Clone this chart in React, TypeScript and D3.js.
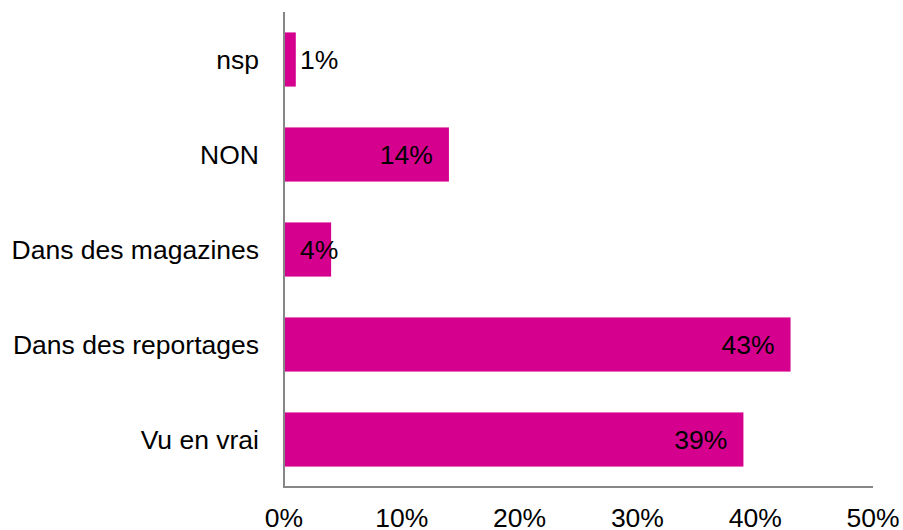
import React, { useEffect, useRef } from "react"
import * as d3 from "d3"

const categories = ["nsp", "NON", "Dans des magazines", "Dans des reportages", "Vu en vrai"]
const values = [1, 14, 4, 43, 39]
const xTicks = [0, 10, 20, 30, 40, 50]

const W = 903
const H = 530

const App = () => {
    const ref = useRef<SVGSVGElement | null>(null)

    useEffect(() => {
        if (!ref.current) return
        const svg = d3.select(ref.current)
        svg.selectAll("*").remove()

        const left = 284
        const right = 873
        const top = 12
        const bottom = 487
        const font = "Liberation Sans, Arial, sans-serif"
        const fontSize = 26.5

        const x = d3.scaleLinear().domain([0, 50]).range([left, right])
        const y = d3
            .scaleBand<string>()
            .domain(categories)
            .range([top, bottom])
            .paddingInner(0.43)
            .paddingOuter(0.215)

        const data = categories.map((c, i) => ({ cat: c, v: values[i] }))

        // bars
        svg.append("g")
            .selectAll("rect")
            .data(data)
            .enter()
            .append("rect")
            .attr("x", x(0))
            .attr("y", (d) => y(d.cat)!)
            .attr("width", (d) => x(d.v) - x(0))
            .attr("height", y.bandwidth())
            .attr("fill", "#D6008F")

        // axes lines
        svg.append("line")
            .attr("x1", left)
            .attr("x2", left)
            .attr("y1", top)
            .attr("y2", bottom)
            .attr("stroke", "#868686")
            .attr("stroke-width", 2)
        svg.append("line")
            .attr("x1", left - 1)
            .attr("x2", right)
            .attr("y1", bottom)
            .attr("y2", bottom)
            .attr("stroke", "#868686")
            .attr("stroke-width", 2)

        // category labels
        svg.append("g")
            .selectAll("text")
            .data(categories)
            .enter()
            .append("text")
            .attr("x", left - 25)
            .attr("y", (d) => y(d)! + y.bandwidth() / 2)
            .attr("dy", "0.35em")
            .attr("text-anchor", "end")
            .attr("font-family", font)
            .attr("font-size", fontSize)
            .attr("fill", "#000")
            .text((d) => d)

        // x tick labels
        svg.append("g")
            .selectAll("text")
            .data(xTicks)
            .enter()
            .append("text")
            .attr("x", (d) => x(d))
            .attr("y", 527)
            .attr("text-anchor", "middle")
            .attr("font-family", font)
            .attr("font-size", fontSize)
            .attr("fill", "#000")
            .text((d) => d + "%")

        // value labels: inside end, pushed out for short bars
        const labels = svg.append("g")
        data.forEach((d) => {
            const t = labels
                .append("text")
                .attr("y", y(d.cat)! + y.bandwidth() / 2)
                .attr("dy", "0.35em")
                .attr("font-family", font)
                .attr("font-size", fontSize)
                .attr("fill", "#000")
                .text(d.v + "%")
            const w = (t.node() as SVGTextElement).getComputedTextLength()
            const start = Math.max(x(d.v) - 16 - w, left + 16)
            t.attr("x", start)
        })
    }, [])

    return (
        <svg
            ref={ref}
            width={W}
            height={H}
            style={{ position: "absolute", left: 0, top: 0, background: "#fff" }}
        />
    )
}

export default App
